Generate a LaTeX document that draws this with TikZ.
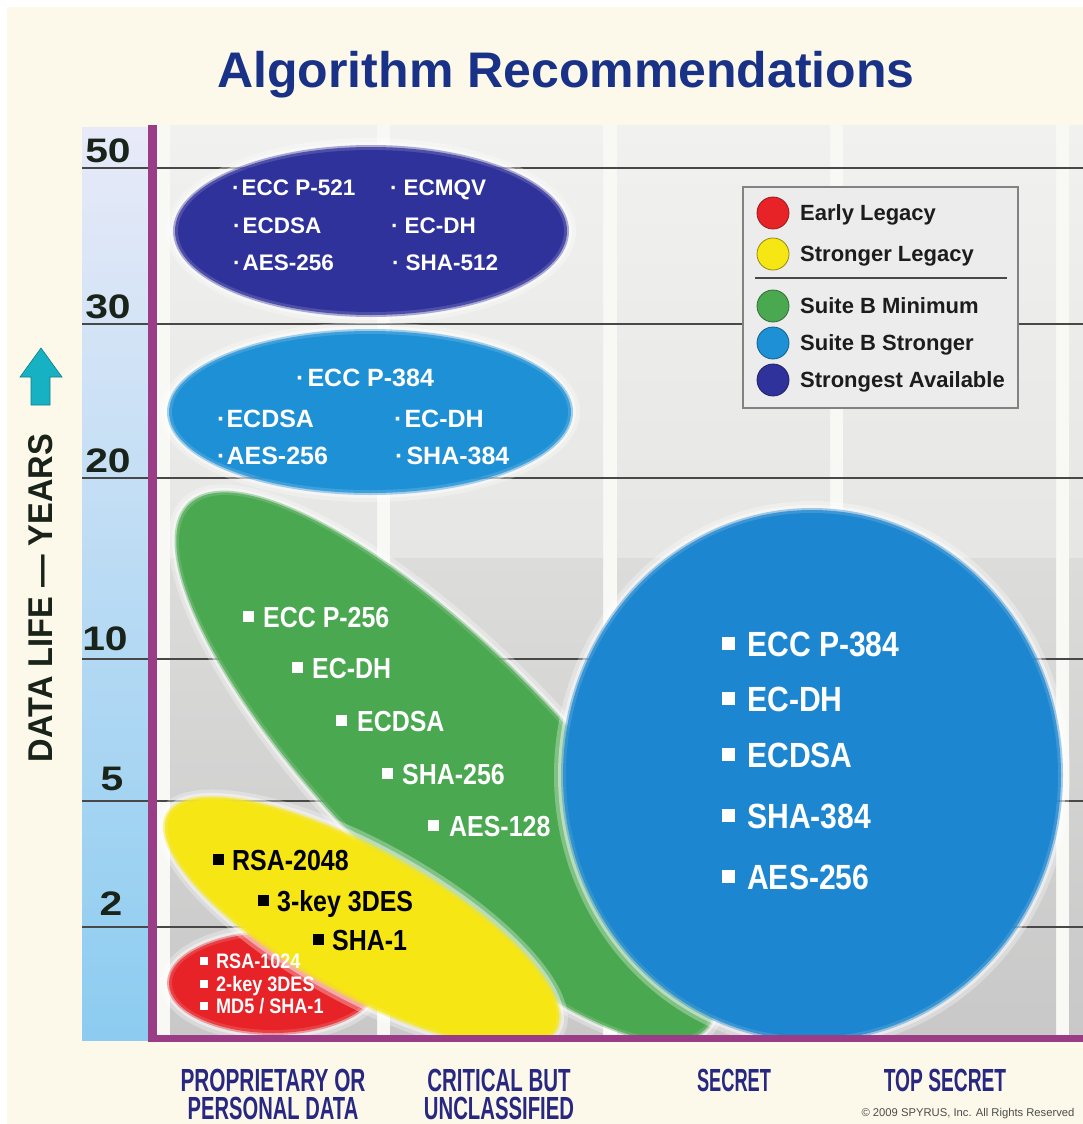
\documentclass[tikz,border=0pt]{standalone}
\usepackage{fontspec}
\usepackage{graphicx}
\setmainfont{Liberation Sans}
\newfontfamily\cnd{Liberation Sans}[FakeStretch=0.86]
\definecolor{cream}{RGB}{252,249,234}
\definecolor{plotwhite}{RGB}{248,248,245}
\definecolor{colTopA}{RGB}{241,241,239}
\definecolor{colTopB}{RGB}{230,230,228}
\definecolor{colBotA}{RGB}{220,220,219}
\definecolor{colBotB}{RGB}{200,200,200}
\definecolor{bandTop}{RGB}{232,234,248}
\definecolor{bandMid}{RGB}{185,222,245}
\definecolor{bandBot}{RGB}{140,204,240}
\definecolor{gridc}{RGB}{72,72,72}
\definecolor{purp}{RGB}{155,60,135}
\definecolor{cDark}{RGB}{48,50,155}
\definecolor{cLight}{RGB}{30,144,214}
\definecolor{cGreen}{RGB}{74,168,80}
\definecolor{cRed}{RGB}{232,35,40}
\definecolor{cYellow}{RGB}{246,230,20}
\definecolor{cBig}{RGB}{28,134,208}
\definecolor{titleblue}{RGB}{25,50,135}
\definecolor{botblue}{RGB}{40,40,130}
\definecolor{numc}{RGB}{25,35,25}
\definecolor{arrowc}{RGB}{22,178,196}
\definecolor{legfill}{RGB}{236,236,236}
\definecolor{legdraw}{RGB}{130,130,130}
\definecolor{legtext}{RGB}{28,28,28}
\newcommand\fsz[1]{\fontsize{#1}{#1}\selectfont}
\newcommand\sqb[2]{\rule[#2]{#1}{#1}}
\newcommand\blob[6]{%
  \fill[white,opacity=.3,rotate around={#5:(#1,#2)}] (#1,#2) ellipse [x radius={#3pt+9pt}, y radius={#4pt+9pt}];
  \fill[white,opacity=.45,rotate around={#5:(#1,#2)}] (#1,#2) ellipse [x radius={#3pt+5pt}, y radius={#4pt+5pt}];
  \fill[#6,opacity=.4,rotate around={#5:(#1,#2)}] (#1,#2) ellipse [x radius={#3pt+2pt}, y radius={#4pt+2pt}];
  \fill[#6,opacity=.75,rotate around={#5:(#1,#2)}] (#1,#2) ellipse [x radius={#3pt}, y radius={#4pt}];
  \fill[#6,rotate around={#5:(#1,#2)}] (#1,#2) ellipse [x radius={#3pt-3pt}, y radius={#4pt-3pt}];
}
\begin{document}
\begin{tikzpicture}[x=1pt,y=-1pt,
  lbl/.style={inner sep=0pt, anchor=base west},
  ctr/.style={inner sep=0pt, anchor=center},
  dk/.style={lbl, text=white, font=\fsz{22.5}\bfseries},
  lt/.style={lbl, text=white, font=\fsz{25}\bfseries},
  gr/.style={lbl, text=white, font=\cnd\fsz{29}\bfseries},
  yl/.style={lbl, text=black, font=\cnd\fsz{29}\bfseries},
  rd/.style={lbl, text=white, font=\cnd\fsz{21}\bfseries},
  bg/.style={lbl, text=white, font=\cnd\fsz{35}\bfseries},
  leg/.style={lbl, text=legtext, font=\fsz{22}\bfseries},
  num/.style={inner sep=0pt, anchor=base, text=numc, font=\fsz{34}\bfseries},
  bot/.style={inner sep=0pt, anchor=base, text=botblue, align=center, font={\fontsize{24}{28}\selectfont\bfseries}},
]
\useasboundingbox (0,0) rectangle (1083,1124);
\fill[white] (0,0) rectangle (1083,1124);
\fill[cream] (7,7) rectangle (1083,1124);

% plot background
\fill[plotwhite] (157,125) rectangle (1083,1038);
\foreach \a/\b in {170/377,390/603,617/830,843/1056,1069/1083} {
  \shade[top color=colTopA, bottom color=colTopB] (\a,125) rectangle (\b,558);
  \shade[top color=colBotA, bottom color=colBotB] (\a,558) rectangle (\b,1038);
}
% left band
\shade[top color=bandTop, middle color=bandMid, bottom color=bandBot] (82,127) rectangle (149,1040);

% gridlines
\foreach \yy in {168,324,478,659,801,927}
  \draw[gridc, line width=2.4pt] (82,\yy) -- (1083,\yy);

% blobs
\begin{scope}
\clip (157,110) rectangle (1083,1038);
\blob{371}{231}{196}{84}{0}{cDark}
\blob{447}{767}{368}{115}{-45.5}{cGreen}
\blob{370}{412}{201}{81}{0}{cLight}
\blob{273}{983}{104}{50}{0}{cRed}
\blob{362}{922}{222}{72}{-29}{cYellow}
\blob{812}{775}{249}{265}{0}{cBig}
\end{scope}

% axes
\draw[purp, line width=9pt] (152.5,125) -- (152.5,1042);
\draw[purp, line width=7pt] (148,1038) -- (1083,1038);

% strongest available
\node[dk] (d1) at (232,195) {·\hspace{2pt}ECC P-521};
\node[dk] (d2) at (390,195) {·\hspace{6pt}ECMQV};
\node[dk] (d3) at (233,233) {·\hspace{2pt}ECDSA};
\node[dk] (d4) at (391,233) {·\hspace{6pt}EC-DH};
\node[dk] (d5) at (233,270) {·\hspace{2pt}AES-256};
\node[dk] (d6) at (392,270) {·\hspace{6pt}SHA-512};

% suite B stronger (small)
\node[lt] (l1) at (296,386) {·\hspace{3pt}ECC P-384};
\node[lt] (l2) at (217,427) {·\hspace{1pt}ECDSA};
\node[lt] (l3) at (394,427) {·\hspace{2pt}EC-DH};
\node[lt] (l4) at (217,464) {·\hspace{1pt}AES-256};
\node[lt] (l5) at (395,464) {·\hspace{3pt}SHA-384};

% suite B minimum
\node[gr] (g1) at (243,627) {\sqb{11pt}{4.9pt}\hspace{9pt}ECC P-256};
\node[gr] (g2) at (292,678) {\sqb{11pt}{4.9pt}\hspace{9pt}EC-DH};
\node[gr] (g3) at (336,731) {\sqb{11pt}{4.9pt}\hspace{10pt}ECDSA};
\node[gr] (g4) at (382,784) {\sqb{11pt}{4.9pt}\hspace{9pt}SHA-256};
\node[gr] (g5) at (428,836) {\sqb{11pt}{4.9pt}\hspace{10pt}AES-128};

% stronger legacy
\node[yl] (y1) at (213,870) {\sqb{11pt}{4.9pt}\hspace{8pt}RSA-2048};
\node[yl] (y2) at (258,911) {\sqb{11pt}{4.9pt}\hspace{8pt}3-key 3DES};
\node[yl] (y3) at (313,950) {\sqb{11pt}{4.9pt}\hspace{8pt}SHA-1};

% early legacy
\node[rd] (r1) at (200,968) {\sqb{8pt}{3.5pt}\hspace{8pt}RSA-1024};
\node[rd] (r2) at (200,991) {\sqb{8pt}{3.5pt}\hspace{8pt}2-key 3DES};
\node[rd] (r3) at (200,1013) {\sqb{8pt}{3.5pt}\hspace{8pt}MD5 / SHA-1};

% big suite B stronger
\node[bg] (b1) at (722,656) {\sqb{13pt}{6pt}\hspace{12pt}ECC P-384};
\node[bg] (b2) at (722,711) {\sqb{13pt}{6pt}\hspace{12pt}EC-DH};
\node[bg] (b3) at (722,767) {\sqb{13pt}{6pt}\hspace{12pt}ECDSA};
\node[bg] (b4) at (722,828) {\sqb{13pt}{6pt}\hspace{12pt}SHA-384};
\node[bg] (b5) at (722,889) {\sqb{13pt}{6pt}\hspace{12pt}AES-256};

% legend
\draw[draw=legdraw, fill=legfill, line width=1.2pt] (743,187) rectangle (1018,408);
\draw[gridc, line width=1.6pt] (755,278) -- (1007,278);
\filldraw[fill=cRed, draw=cRed!65!black, line width=0.8pt] (773,213) circle [radius=16pt];
\filldraw[fill=cYellow, draw=cYellow!60!black, line width=0.8pt] (773,254) circle [radius=16pt];
\filldraw[fill=cGreen, draw=cGreen!65!black, line width=0.8pt] (773,306) circle [radius=16pt];
\filldraw[fill=cLight, draw=cLight!65!black, line width=0.8pt] (773,343) circle [radius=16pt];
\filldraw[fill=cDark, draw=cDark!65!black, line width=0.8pt] (773,380) circle [radius=16pt];
\node[leg] (e1) at (800,220) {Early Legacy};
\node[leg] (e2) at (800,261) {Stronger Legacy};
\node[leg] (e3) at (800,313) {Suite B Minimum};
\node[leg] (e4) at (800,350) {Suite B Stronger};
\node[leg] (e5) at (800,387) {Strongest Available};

% title
\node[inner sep=0pt, anchor=base, text=titleblue, font=\fsz{50}\bfseries] (title) at (566,88) {Algorithm Recommendations};

% y axis numbers
\node[num] (n50) at (108,162) {\scalebox{1.2}[1]{50}};
\node[num] (n30) at (108,318) {\scalebox{1.2}[1]{30}};
\node[num] (n20) at (108,472) {\scalebox{1.2}[1]{20}};
\node[num] (n10) at (105,650) {\scalebox{1.2}[1]{10}};
\node[num] (n5) at (112,790) {\scalebox{1.2}[1]{5}};
\node[num] (n2) at (111,915) {\scalebox{1.2}[1]{2}};

% vertical axis title and arrow
\node[ctr, rotate=90, text=numc] (ytitle) at (41,598) {\resizebox{328pt}{24pt}{\bfseries DATA LIFE — YEARS}};
\filldraw[fill=arrowc, draw=arrowc!70!black, line width=0.6pt]
  (41,348) -- (62,377) -- (50,377) -- (50,405) -- (31,405) -- (31,377) -- (20,377) -- cycle;

% categories
\node[bot] (c1) at (273,1119) {\scalebox{.867}[1.333]{PROPRIETARY OR}\\\scalebox{.84}[1.333]{PERSONAL DATA}};
\node[bot] (c2) at (499,1119) {\scalebox{.853}[1.333]{CRITICAL BUT}\\\scalebox{.847}[1.333]{UNCLASSIFIED}};
\node[bot] (c3) at (734,1091) {\scalebox{.76}[1.333]{SECRET}};
\node[bot] (c4) at (945,1091) {\scalebox{.8}[1.333]{TOP SECRET}};
\node[ctr, text=black!70] (copy) at (968,1114) {\resizebox{213pt}{!}{\fsz{9}© 2009 SPYRUS, Inc. All Rights Reserved}};
\end{tikzpicture}
\end{document}
